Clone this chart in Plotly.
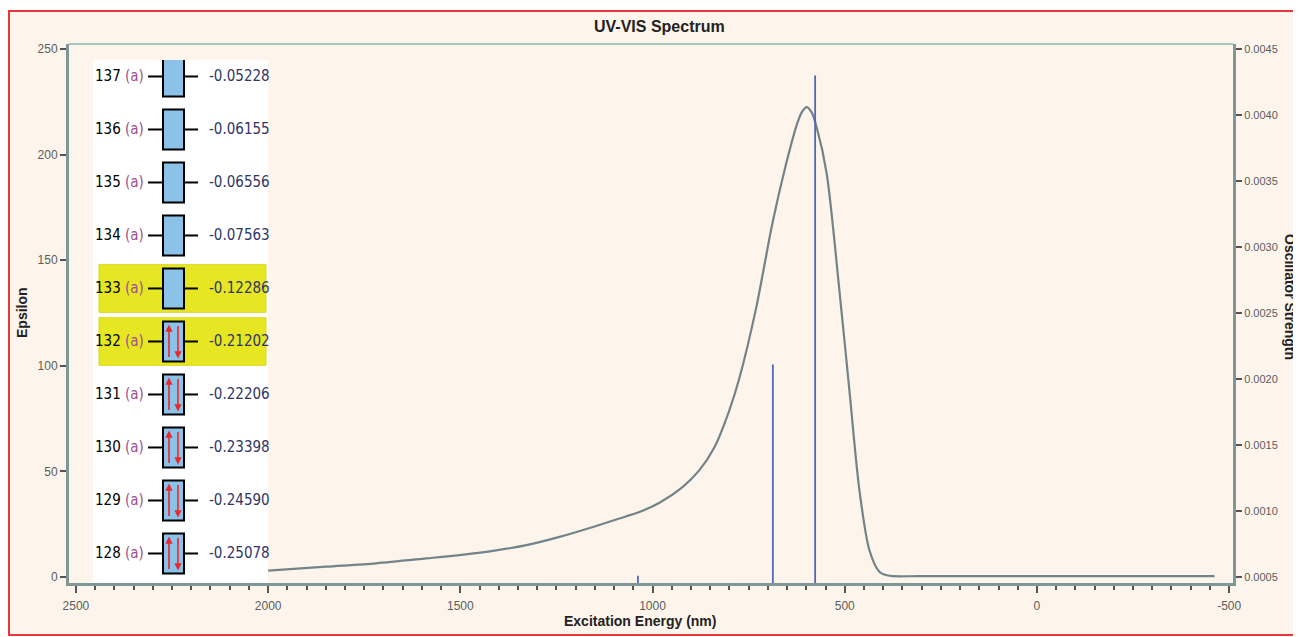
import plotly.graph_objects as go

# simulated spectrum (epsilon vs wavelength)
spec_nm = [2000, 1849, 1719, 1589, 1502, 1415, 1328, 1242, 1155, 1068, 1034, 982, 922, 878, 839,
           800, 774, 730, 688, 652, 625, 612, 599, 586, 573, 547, 514, 488, 462, 436, 410,
           390, 375, 306, -462]
spec_eps = [3.0, 4.9, 6.5, 8.8, 10.4, 12.4, 15.1, 19.0, 23.7, 28.8, 30.8, 35.2, 42.6, 50.6, 61.4,
            79.0, 94.2, 127.8, 167.6, 196.0, 214.0, 220.0, 222.5, 220.0, 213.0, 191.1,
            135.9, 88.6, 41.3, 12.8, 2.5, 0.8, 0.4, 0.4, 0.4]

# oscillator strengths (sticks)
stick_nm = [1038, 687, 577]
stick_f = [0.00051, 0.00211, 0.0043]

# molecular orbital levels shown in the inset
mo_num = [137, 136, 135, 134, 133, 132, 131, 130, 129, 128]
mo_energy = ["-0.05228", "-0.06155", "-0.06556", "-0.07563", "-0.12286",
             "-0.21202", "-0.22206", "-0.23398", "-0.24590", "-0.25078"]
mo_occupied = [False, False, False, False, False, True, True, True, True, True]
mo_highlight = [False, False, False, False, True, True, False, False, False, False]

x_ticks = [2500, 2000, 1500, 1000, 500, 0, -500]

CREAM = "#fdf5eb"
AXIS = "#7f9797"
SANS = "Liberation Sans, Arial, sans-serif"
TICKFONT = dict(family=SANS, size=12, color="#5c5c5c")
NARROW = "Liberation Sans Narrow, DejaVu Sans Condensed, Roboto, sans-serif"

# the page puts the figure 8px in from the window corner, so
# positions below are in window pixels, relative to the plot area (69..1233, 44..583)


def px(x):
    return (x - 69) / 1164


def py(y):
    return (583 - y) / 539


fig = go.Figure()

fig.add_trace(go.Scatter(x=spec_nm, y=spec_eps, mode="lines",
                         line=dict(color="#72848a", width=2.2, shape="spline", smoothing=0.8),
                         showlegend=False, hoverinfo="skip"))

sx, sy = [], []
for n, f in zip(stick_nm, stick_f):
    sx += [n, n, None]
    sy += [0, f, None]
fig.add_trace(go.Scatter(x=sx, y=sy, mode="lines", yaxis="y2",
                         line=dict(color="#5467b5", width=1.8),
                         showlegend=False, hoverinfo="skip"))

# invisible trace so the inset axes exist
fig.add_trace(go.Scatter(x=[0], y=[0], xaxis="x3", yaxis="y3", mode="markers",
                         marker=dict(opacity=0), showlegend=False, hoverinfo="skip"))

shapes = [
    dict(type="rect", xref="paper", yref="paper", x0=px(9), x1=px(1299), y0=py(635), y1=py(11),
         fillcolor=CREAM, line=dict(color="#e8373a", width=2), layer="below"),
    dict(type="rect", xref="paper", yref="paper", x0=px(93), x1=px(268), y0=py(584), y1=py(60),
         fillcolor="white", line=dict(width=0), layer="below"),
    dict(type="line", xref="paper", yref="paper", x0=0, x1=1, y0=1, y1=1,
         line=dict(color="#a9c6bf", width=2)),
]
annotations = []

for i, (num, en, occ, hl) in enumerate(zip(mo_num, mo_energy, mo_occupied, mo_highlight)):
    if hl:
        shapes.append(dict(type="rect", xref="x3", yref="y3", x0=6, x1=173, y0=i - 0.45, y1=i + 0.45,
                           fillcolor="#e6e622", line=dict(color="#d8d820", width=1)))
    shapes.append(dict(type="line", xref="x3", yref="y3", x0=55, x1=70, y0=i, y1=i,
                       line=dict(color="black", width=2)))
    shapes.append(dict(type="line", xref="x3", yref="y3", x0=91, x1=105, y0=i, y1=i,
                       line=dict(color="black", width=2)))
    shapes.append(dict(type="rect", xref="x3", yref="y3", x0=70, x1=91, y0=i - 0.377, y1=i + 0.377,
                       fillcolor="#8cc2e8", line=dict(color="black", width=2)))
    annotations.append(dict(xref="x3", yref="y3", x=53, y=i, xanchor="right", yanchor="middle",
                            showarrow=False,
                            text=f"{num} <span style='color:#a0508f'>(a)</span>",
                            font=dict(family=NARROW, size=15, color="black")))
    annotations.append(dict(xref="x3", yref="y3", x=114, y=i, xanchor="left", yanchor="middle",
                            showarrow=False, text=en,
                            font=dict(family=NARROW, size=15, color="#2f3566")))
    if occ:
        annotations.append(dict(xref="x3", yref="y3", axref="x3", ayref="y3",
                                x=76, y=i - 0.32, ax=76, ay=i + 0.32,
                                showarrow=True, arrowhead=2, arrowsize=0.9, arrowwidth=1.6,
                                arrowcolor="#e8282e", text=""))
        annotations.append(dict(xref="x3", yref="y3", axref="x3", ayref="y3",
                                x=85, y=i + 0.32, ax=85, ay=i - 0.32,
                                showarrow=True, arrowhead=2, arrowsize=0.9, arrowwidth=1.6,
                                arrowcolor="#e8282e", text=""))

annotations += [
    dict(xref="paper", yref="paper", x=px(659), y=py(26), xanchor="center", yanchor="middle",
         showarrow=False, text="<b>UV-VIS Spectrum</b>", font=dict(family=SANS, size=16, color="#222")),
    dict(xref="paper", yref="paper", x=px(640), y=py(621), xanchor="center", yanchor="middle",
         showarrow=False, text="<b>Excitation Energy (nm)</b>", font=dict(family=SANS, size=14, color="#222")),
    dict(xref="paper", yref="paper", x=px(22), y=py(313), xanchor="center", yanchor="middle",
         showarrow=False, textangle=-90, text="<b>Epsilon</b>", font=dict(family=SANS, size=14, color="#222")),
    dict(xref="paper", yref="paper", x=px(1290), y=py(297), xanchor="center", yanchor="middle",
         showarrow=False, textangle=90, text="<b>Oscillator Strength</b>",
         font=dict(family=SANS, size=14, color="#222")),
]

fig.update_layout(
    width=1293, height=629,
    margin=dict(l=61, r=68, t=36, b=54),
    paper_bgcolor="white", plot_bgcolor="rgba(0,0,0,0)",
    shapes=shapes, annotations=annotations,
    xaxis=dict(range=[2518, -510], tickmode="array", tickvals=x_ticks,
               ticktext=[str(v) for v in x_ticks],
               ticks="outside", ticklen=7, tickwidth=1.5, tickcolor="#555",
               minor=dict(dtick=50, tick0=0, ticks="outside", ticklen=4, tickcolor="#555", tickwidth=1.5),
               showline=True, linecolor=AXIS, linewidth=3, showgrid=False, zeroline=False,
               tickfont=TICKFONT, ticklabelstandoff=3),
    yaxis=dict(range=[-2.84, 252.4], tickmode="linear", tick0=0, dtick=50,
               ticks="outside", ticklen=6, tickwidth=1.5, tickcolor="#555",
               showline=True, linecolor=AXIS, linewidth=3, showgrid=False, zeroline=False,
               tickfont=TICKFONT),
    yaxis2=dict(range=[0.000455, 0.004538], overlaying="y", side="right", anchor="x",
                tickmode="linear", tick0=0.0005, dtick=0.0005, tickformat=".4f",
                ticks="outside", ticklen=6, tickwidth=1.5, tickcolor="#555",
                showline=True, linecolor=AXIS, linewidth=3, showgrid=False, zeroline=False,
                tickfont=dict(family=SANS, size=11, color="#5c5c5c")),
    xaxis3=dict(domain=[px(93), px(268)], range=[0, 175], anchor="y3", visible=False, fixedrange=True),
    yaxis3=dict(domain=[py(583), py(60)], range=[9.557, -0.311], anchor="x3", visible=False,
                fixedrange=True),
)

fig.write_html("out.html")
